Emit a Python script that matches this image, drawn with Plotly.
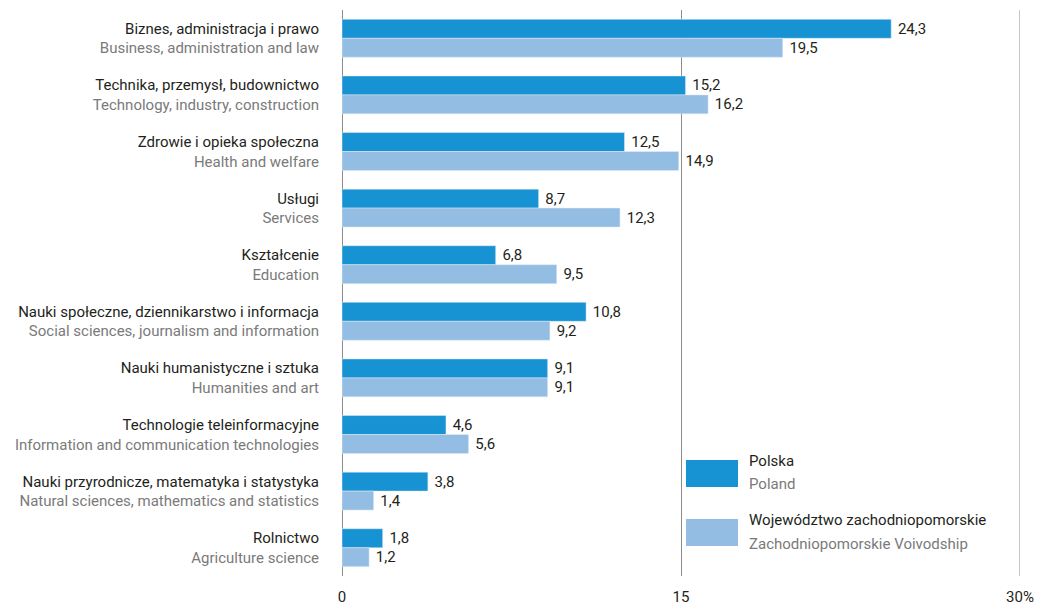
import plotly.graph_objects as go

categories_pl = [
    "Biznes, administracja i prawo",
    "Technika, przemysł, budownictwo",
    "Zdrowie i opieka społeczna",
    "Usługi",
    "Kształcenie",
    "Nauki społeczne, dziennikarstwo i informacja",
    "Nauki humanistyczne i sztuka",
    "Technologie teleinformacyjne",
    "Nauki przyrodnicze, matematyka i statystyka",
    "Rolnictwo",
]
categories_en = [
    "Business, administration and law",
    "Technology, industry, construction",
    "Health and welfare",
    "Services",
    "Education",
    "Social sciences, journalism and information",
    "Humanities and art",
    "Information and communication technologies",
    "Natural sciences, mathematics and statistics",
    "Agriculture science",
]
polska = [24.3, 15.2, 12.5, 8.7, 6.8, 10.8, 9.1, 4.6, 3.8, 1.8]
zachodniopomorskie = [19.5, 16.2, 14.9, 12.3, 9.5, 9.2, 9.1, 5.6, 1.4, 1.2]
x_tickvals = [0, 15, 30]
x_ticktext = ["0", "15", "30%"]

DARK = "#1792d3"
LIGHT = "#93bde3"
BLACK = "#231f20"
GRAY = "#7a7a7a"
FONT = "Roboto, sans-serif"
FS = 15

ylabels = [f"{pl}<br><span style='color:{GRAY}'>{en}</span>" for pl, en in zip(categories_pl, categories_en)]

def fmt(v):
    return "\u00a0" + f"{v:.1f}".replace(".", ",")

fig = go.Figure()
fig.add_trace(go.Bar(
    y=ylabels, x=polska, orientation="h", name="Polska", marker_color=DARK,
    text=[fmt(v) for v in polska], textposition="outside",
    textfont=dict(color=BLACK, size=FS, family=FONT), cliponaxis=False,
))
fig.add_trace(go.Bar(
    y=ylabels, x=zachodniopomorskie, orientation="h", name="Zachodniopomorskie", marker_color=LIGHT,
    text=[fmt(v) for v in zachodniopomorskie], textposition="outside",
    textfont=dict(color=BLACK, size=FS, family=FONT), cliponaxis=False,
))

W, H = 1041, 607
L, R, T, B = 342, 21, 10, 31
pw, ph = W - L - R, H - T - B

def px(x):
    return (x - L) / pw

def py(y):
    return (H - B - y) / ph

shapes = [
    dict(type="rect", xref="paper", yref="paper", x0=px(686), x1=px(738), y0=py(487), y1=py(460),
         fillcolor=DARK, line_width=0),
    dict(type="rect", xref="paper", yref="paper", x0=px(686), x1=px(738), y0=py(546), y1=py(519),
         fillcolor=LIGHT, line_width=0),
    dict(type="line", xref="x", yref="paper", x0=30, x1=30, y0=0, y1=1,
         line=dict(color="#8c8c8c", width=1), layer="below"),
]
annotations = [
    dict(xref="paper", yref="paper", x=px(747), y=py(461), text="Polska", showarrow=False,
         xanchor="left", yanchor="middle", font=dict(color=BLACK, size=FS, family=FONT)),
    dict(xref="paper", yref="paper", x=px(747), y=py(484), text="Poland", showarrow=False,
         xanchor="left", yanchor="middle", font=dict(color=GRAY, size=FS, family=FONT)),
    dict(xref="paper", yref="paper", x=px(747), y=py(520), text="Województwo zachodniopomorskie", showarrow=False,
         xanchor="left", yanchor="middle", font=dict(color=BLACK, size=FS, family=FONT)),
    dict(xref="paper", yref="paper", x=px(747), y=py(544), text="Zachodniopomorskie Voivodship", showarrow=False,
         xanchor="left", yanchor="middle", font=dict(color=GRAY, size=FS, family=FONT)),
]

fig.update_layout(
    width=W, height=H,
    margin=dict(l=L, r=R, t=T, b=B, autoexpand=False),
    paper_bgcolor="white", plot_bgcolor="white",
    barmode="group", bargap=0.33, bargroupgap=0,
    showlegend=False,
    font=dict(family=FONT, size=FS, color=BLACK),
    shapes=shapes, annotations=annotations,
)
fig.update_xaxes(
    range=[0, 30], tickvals=x_tickvals, ticktext=x_ticktext,
    showgrid=True, gridcolor="#8c8c8c", gridwidth=1,
    zeroline=True, zerolinecolor="#8c8c8c", zerolinewidth=1,
    showline=False, ticks="", ticklabelstandoff=10, automargin=False,
    tickfont=dict(size=FS, color=BLACK, family=FONT),
)
fig.update_yaxes(
    autorange="reversed", showgrid=False, ticks="", ticklabelstandoff=22, automargin=False,
    tickfont=dict(size=FS, color=BLACK, family=FONT),
)

fig.write_html(
    "out.html",
    config={"displayModeBar": False},
    post_script="document.body.style.margin='0';document.body.style.overflow='hidden';",
)
